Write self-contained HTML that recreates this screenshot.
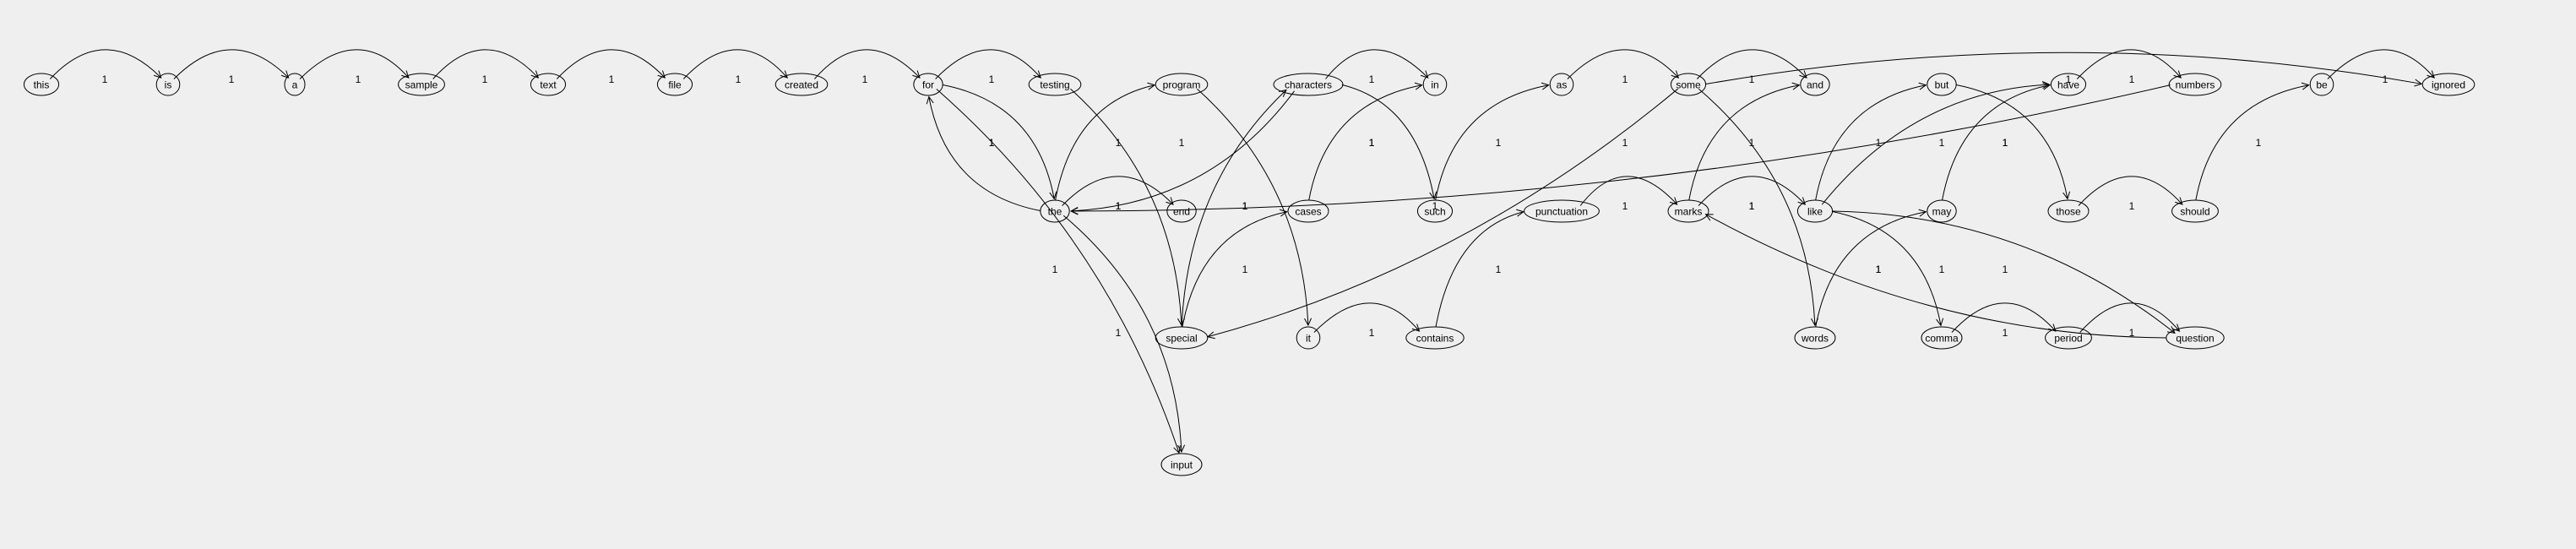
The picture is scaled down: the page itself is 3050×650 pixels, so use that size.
<!DOCTYPE html>
<html><head><meta charset="utf-8">
<style>
html,body{margin:0;padding:0;background:#efefef;}
svg{display:block;}
text{font-family:"Liberation Sans",sans-serif;font-size:12px;fill:#000;}
</style></head>
<body>
<svg id="g" width="3050" height="650" viewBox="0 0 3050 650" xmlns="http://www.w3.org/2000/svg">
<rect width="3050" height="650" fill="#efefef"/>
<g id="edges"></g>
<g id="nodes"></g>
</svg>
<script>
const words = ["this","is","a","sample","text","file","created","for","testing","program","characters","in","as","some","and","but","have","numbers","be","ignored",
"the","end","cases","such","punctuation","marks","like","may","those","should",
"special","it","contains","words","comma","period","question","input"];
const cols = [0,1,2,3,4,5,6,7,8,9,10,11,12,13,14,15,16,17,18,19,
8,9,10,11,12,13,14,15,16,17,
9,10,11,14,15,16,17,9];
const rows = [0,0,0,0,0,0,0,0,0,0,0,0,0,0,0,0,0,0,0,0,
1,1,1,1,1,1,1,1,1,1,
2,2,2,2,2,2,2,3];
const edgeFrom = ["this","is","a","sample","text","file","created","for","for","the","testing","the","program","the","the","for","special","characters","characters","characters","special","cases","such","as","some","some","some","marks","punctuation","contains","it","marks","question","like","like","like","like","words","may","but","have","numbers","those","should","be","comma","period","some"];
const edgeTo = ["is","a","sample","text","file","created","for","testing","the","for","special","program","it","end","input","input","characters","the","in","such","cases","in","as","some","special","and","words","and","marks","punctuation","contains","like","marks","but","have","comma","question","may","have","those","numbers","the","should","be","ignored","period","question","ignored"];
const weights = edgeFrom.map(()=>1);

const NS="http://www.w3.org/2000/svg";
const X0=49, DX=150, Y0=100, DY=150;
const xs=c=>X0+c*DX, ys=r=>Y0+r*DY;
const eg=document.getElementById('edges'), ng=document.getElementById('nodes');
const idx={}; words.forEach((w,i)=>idx[w]=i);
function rxOf(w){return Math.max(12, w.length*3.4+7);}
edgeFrom.forEach((f,i)=>{
  const a=idx[f], b=idx[edgeTo[i]];
  const x1=xs(cols[a]), y1=ys(rows[a]), x2=xs(cols[b]), y2=ys(rows[b]);
  const dx=x2-x1, dy=y2-y1, len=Math.hypot(dx,dy)||1;
  const off=75;
  const cx=(x1+x2)/2+dy/len*off, cy=(y1+y2)/2-dx/len*off;
  const ex=x2-cx, ey=y2-cy, el=Math.hypot(ex,ey)||1;
  const rb=rxOf(words[b]);
  const ux=ex/el, uy=ey/el;
  const tx=x2-ux*rb*Math.abs(ux)-ux*2, ty=y2-uy*13*Math.abs(uy)-uy*2;
  const sx0=cx-x1, sy0=cy-y1, sl=Math.hypot(sx0,sy0)||1;
  const vx=sx0/sl, vy=sy0/sl;
  const sx=x1+vx*rxOf(f)*Math.abs(vx), sy=y1+vy*13*Math.abs(vy);
  const p=document.createElementNS(NS,'path');
  p.setAttribute('d',`M${sx},${sy} Q${cx},${cy} ${tx},${ty}`);
  p.setAttribute('fill','none');p.setAttribute('stroke','#000');p.setAttribute('stroke-width','1');
  
  
  eg.appendChild(p);
  const L=9;
  const ah=document.createElementNS(NS,'path');
  const ax1=tx-L*(ux*0.9-uy*0.45), ay1=ty-L*(uy*0.9+ux*0.45);
  const ax2=tx-L*(ux*0.9+uy*0.45), ay2=ty-L*(uy*0.9-ux*0.45);
  ah.setAttribute('d',`M${ax1},${ay1} L${tx},${ty} L${ax2},${ay2}`);
  ah.setAttribute('fill','none');ah.setAttribute('stroke','#000');
  
  
  eg.appendChild(ah);
  const t=document.createElementNS(NS,'text');
  t.setAttribute('x',(x1+x2)/2);t.setAttribute('y',(y1+y2)/2-2);
  t.setAttribute('text-anchor','middle');
  t.textContent=weights[i];
  
  
  eg.appendChild(t);
});
words.forEach((w,i)=>{
  const x=xs(cols[i]), y=ys(rows[i]);
  const e=document.createElementNS(NS,'ellipse');
  e.setAttribute('cx',x);e.setAttribute('cy',y);e.setAttribute('rx',rxOf(w));e.setAttribute('ry',13);
  e.setAttribute('fill','none');e.setAttribute('stroke','#000');
  
  
  ng.appendChild(e);
  const t=document.createElementNS(NS,'text');
  t.setAttribute('x',x);t.setAttribute('y',y+4.5);t.setAttribute('text-anchor','middle');
  t.textContent=w;
  
  
  ng.appendChild(t);
});
</script>
</body></html>
